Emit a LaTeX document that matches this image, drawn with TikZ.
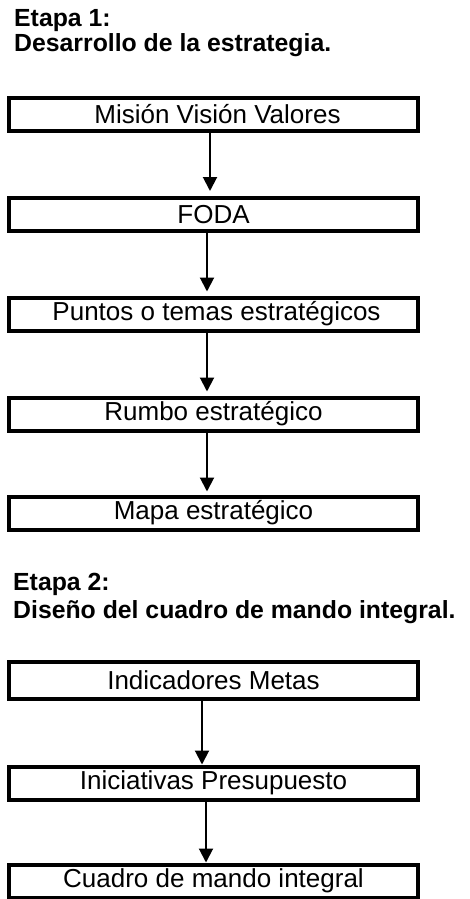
\documentclass[tikz,border=0pt]{standalone}
\usepackage{fontspec}
\setmainfont{Liberation Sans}
\usetikzlibrary{arrows.meta}
\tikzset{
  stepbox/.style={draw, line width=4pt, minimum width=409pt, minimum height=33pt, inner sep=0pt,
    font=\fontsize{26}{30}\selectfont},
  heading/.style={anchor=base west, inner sep=0pt, font=\bfseries\fontsize{24.8}{30}\selectfont},
  arr/.style={line width=2pt, -{Triangle[length=14pt,width=14pt]}}
}
\begin{document}
\begin{tikzpicture}[x=1pt,y=-1pt]
\useasboundingbox (0,0) rectangle (469,899);
\node[heading] (h1a) at (14,27) {Etapa 1:};
\node[heading] (h1b) at (14,52) {Desarrollo de la estrategia.};
\node[stepbox] (b1) at (213.5,114.5) {\hspace{8pt}Misión Visión Valores};
\node[stepbox] (b2) at (213.5,214.5) {FODA};
\node[stepbox] (b3) at (213.5,314) {\hspace{6pt}Puntos o temas estratégicos};
\node[stepbox] (b4) at (213.5,414) {Rumbo estratégico};
\node[stepbox] (b5) at (213.5,513) {Mapa estratégico};
\node[heading] (h2a) at (13,590) {Etapa 2:};
\node[heading] (h2b) at (13,618) {Diseño del cuadro de mando integral.};
\node[stepbox, minimum height=37pt] (b6) at (213.5,680.5) {Indicadores Metas};
\node[stepbox] (b7) at (213.5,783) {Iniciativas Presupuesto};
\node[stepbox] (b8) at (213.5,881) {Cuadro de mando integral};
\draw[arr, shorten >=5pt] ([xshift=-3.5pt]b1.south) -- ([xshift=-3.5pt]b2.north);
\draw[arr, shorten >=4pt] ([xshift=-6.5pt]b2.south) -- ([xshift=-6.5pt]b3.north);
\draw[arr, shorten >=4pt] ([xshift=-6.5pt]b3.south) -- ([xshift=-6.5pt]b4.north);
\draw[arr, shorten >=3pt] ([xshift=-6.5pt]b4.south) -- ([xshift=-6.5pt]b5.north);
\draw[arr] ([xshift=-11.5pt]b6.south) -- ([xshift=-11.5pt]b7.north);
\draw[arr] ([xshift=-7.5pt]b7.south) -- ([xshift=-7.5pt]b8.north);
\end{tikzpicture}
\end{document}
